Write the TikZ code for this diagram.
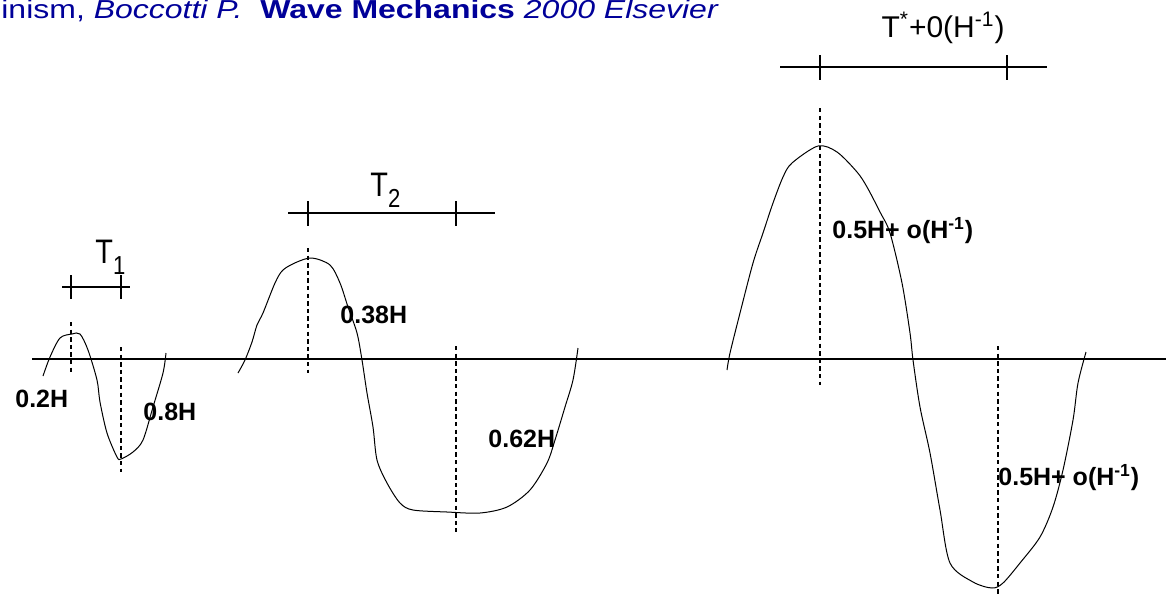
\documentclass[tikz,border=0pt]{standalone}
\usepackage{fontspec}
\setmainfont{Liberation Sans}
\newfontfamily\titlefont[FakeStretch=1.23]{Liberation Sans}
\newfontfamily\perfont[FakeStretch=0.85]{Liberation Sans}
\usetikzlibrary{positioning}
\definecolor{titleblue}{RGB}{0,0,153}
\newcommand{\subsc}[1]{\raisebox{-5.5pt}{\fontsize{13}{15}\selectfont #1}}

\begin{document}
\begin{tikzpicture}[x=0.5pt,y=-0.5pt,
  wave/.style={line width=0.5pt, smooth, tension=0.5},
  crest/.style={line width=0.75pt, dash pattern=on 2.2pt off 1.6pt},
  periodbar/.style={line width=0.55pt},
  hlabel/.style={font=\fontsize{12.5}{14}\selectfont\bfseries, inner sep=0pt},
  tlabel/.style={font=\perfont\fontsize{17}{19}\selectfont, inner sep=0pt}]
\useasboundingbox (0,0) rectangle (1166,595);
\node[anchor=base west, inner sep=0pt, text=titleblue, font=\titlefont\fontsize{13}{15}\selectfont] (title) at (1,18)
  {inism, \textit{Boccotti P.}\ \ \textbf{Wave Mechanics} \textit{2000 Elsevier}};
% mean level
\draw[line width=0.6pt] (32,359) -- (1166,359);
% periods
\draw[periodbar] (62,287) -- (130,287) (71,275) -- (71,299) (121,275) -- (121,299);
\node[tlabel, anchor=base west] (tone) at (95,263) {T\subsc{1}};
\draw[periodbar] (288,213) -- (495,213) (308,201) -- (308,226) (456,201) -- (456,226);
\node[tlabel, anchor=base west] (ttwo) at (370,196) {T\subsc{2}};
\draw[periodbar] (780,67) -- (1047,67) (820,55) -- (820,80) (1007,55) -- (1007,80);
\node[tlabel, font=\fontsize{15}{17}\selectfont, anchor=base] (tstar) at (943,37) {T\textsuperscript{*}+0(H\textsuperscript{-1})};
% crests and troughs
\draw[crest] (71,322) -- (71,372);
\draw[crest] (121,347) -- (121,472);
\draw[crest] (308,248) -- (308,373);
\draw[crest] (456,346) -- (456,532);
\draw[crest] (820,108) -- (820,385);
\draw[crest] (998,346) -- (998,595);
% waves
\draw[wave] plot coordinates {(43,376) (50,357) (60,338) (72,334) (80,334) (88,350) (97,380)
  (100,402) (107,433) (117,457) (121,459) (133,452) (143,440) (153,407) (163,373) (166,353)};
\draw[wave] plot coordinates {(238,373) (245,360) (252,342) (257,325) (263,313) (275,283)
  (283,270) (297,262) (312,258) (330,265) (340,283) (348,307) (357,333) (362,360) (367,393)
  (373,427) (377,460) (387,483) (400,503) (413,510) (447,512) (480,513) (507,507) (530,490)
  (547,463) (555,440) (565,407) (573,380) (578,348)};
\draw[wave] plot coordinates {(727,370) (730,353) (740,313) (753,263) (763,233) (773,203)
  (783,177) (792,163) (818,146) (837,152) (857,172) (867,187) (880,212) (890,233) (902,283)
  (910,333) (913,360) (920,407) (930,453) (940,510) (950,563) (973,582) (992,588) (1003,583)
  (1020,563) (1040,537) (1053,507) (1063,470) (1073,420) (1078,383) (1086,352)};
% heights
\node[hlabel, anchor=base west] (h1) at (15,407) {0.2H};
\node[hlabel, anchor=base west] (h2) at (143,420) {0.8H};
\node[hlabel, anchor=base west] (h3) at (340,323) {0.38H};
\node[hlabel, anchor=base west] (h4) at (488,447) {0.62H};
\node[hlabel, anchor=base west] (h5) at (832,238) {0.5H+ o(H\textsuperscript{-1})};
\node[hlabel, anchor=base west] (h6) at (998,485) {0.5H+ o(H\textsuperscript{-1})};
\end{tikzpicture}
\end{document}
